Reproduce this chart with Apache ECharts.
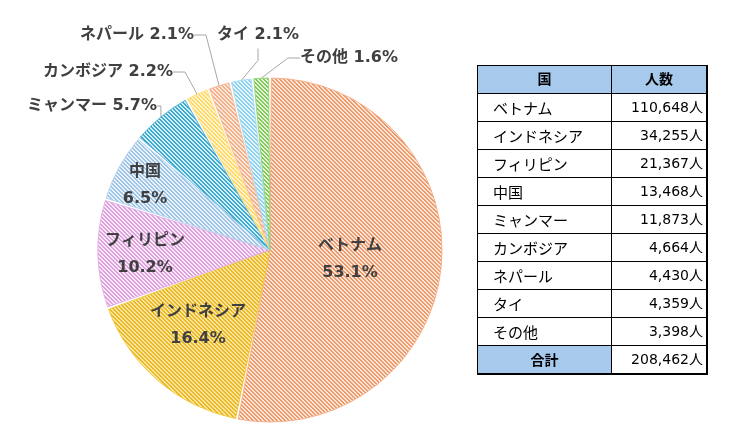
<!DOCTYPE html>
<html>
<head>
<meta charset="utf-8">
<script src="https://cdn.jsdelivr.net/npm/echarts@6/dist/echarts.min.js"></script>
<style>
  html, body { margin:0; padding:0; background:#fff; }
  #wrap { position:relative; width:745px; height:438px; }
  #chart { position:absolute; left:0; top:0; width:745px; height:438px; }
  #tbl { position:absolute; left:477px; top:65px; border-collapse:collapse;
         font-family:"DejaVu Sans","Noto Sans CJK JP",sans-serif; font-size:14px; color:#000;
         border-right:2px solid #000; border-bottom:2px solid #000; }
  #tbl td, #tbl th { border:1px solid #000; padding:0; height:27px; line-height:27px; }
  #tbl th { background:#a6c9ec; font-weight:bold; text-align:center; }
  #tbl td.n { text-align:left; padding-left:15px; width:118px; font-family:"Noto Sans CJK JP",sans-serif; font-size:15px; }
  #tbl td.v { text-align:right; padding-right:3px; width:91px; }
  #tbl .totl { background:#a6c9ec; font-weight:bold; text-align:center; font-family:"Noto Sans CJK JP",sans-serif; }
</style>
</head>
<body>
<div id="wrap">
  <div id="chart"></div>
  <table id="tbl"></table>
</div>
<script>
// ---- data ----
var countries = ['ベトナム','インドネシア','フィリピン','中国','ミャンマー','カンボジア','ネパール','タイ','その他'];
var counts    = [110648, 34255, 21367, 13468, 11873, 4664, 4430, 4359, 3398];
var tableHeader = ['国', '人数'];
var totalLabel = '合計';
var unit = '人';

// ---- styles ----
var stripeFg = ['#ec9a6c','#eab825','#dca0dc','#9ec4e6','#3ea9cd','#ffd966','#f2ae86','#8ed0f0','#82c85c'];
var stripeBg = ['#fde6d8','#fbe6a0','#f9e9f9','#e9f2fb','#d2eef8','#fff5d2','#fde8dc','#e5f5fc','#e2f3d6'];
var edgeCol  = ['#f4b08a','#f0c840','#e4b4e4','#b4d2ee','#5ab6d6','#ffe080','#f4bc9c','#a8dcf4','#98d47a'];
var insideSet = {'ベトナム':1,'インドネシア':1,'フィリピン':1,'中国':1};
var labelPos = {
  'ベトナム':[350,259], 'インドネシア':[198,325], 'フィリピン':[145,254], '中国':[145,185],
  'ミャンマー':[92,106], 'カンボジア':[108,72], 'ネパール':[137,35], 'タイ':[258,35], 'その他':[349,58]
};

function makePattern(fg, bg) {
  var c = document.createElement('canvas');
  c.width = 8; c.height = 8;
  var ctx = c.getContext('2d');
  var img = ctx.createImageData(8, 8);
  function hex(h){ return [parseInt(h.substr(1,2),16),parseInt(h.substr(3,2),16),parseInt(h.substr(5,2),16)]; }
  var f = hex(fg), b = hex(bg);
  for (var y = 0; y < 8; y++) for (var x = 0; x < 8; x++) {
    var on = ((x - y + 16) % 4) < 2;
    var col = on ? f : b;
    var k = (y*8 + x)*4;
    img.data[k]=col[0]; img.data[k+1]=col[1]; img.data[k+2]=col[2]; img.data[k+3]=255;
  }
  ctx.putImageData(img, 0, 0);
  return c;
}

var total = counts.reduce(function(a,b){return a+b;}, 0);
function pct(v){ return (v/total*100).toFixed(1); }
function fmt(n){ return n.toString().replace(/\B(?=(\d{3})+(?!\d))/g, ','); }

// ---- table ----
(function(){
  var t = document.getElementById('tbl');
  var h = '<tr style="height:28px"><th style="width:133px">'+tableHeader[0]+'</th><th style="width:94px">'+tableHeader[1]+'</th></tr>';
  for (var i = 0; i < countries.length; i++) {
    h += '<tr><td class="n">'+countries[i]+'</td><td class="v">'+fmt(counts[i])+unit+'</td></tr>';
  }
  h += '<tr><td class="totl">'+totalLabel+'</td><td class="v">'+fmt(total)+unit+'</td></tr>';
  t.innerHTML = h;
})();

// ---- chart ----
var chart = echarts.init(document.getElementById('chart'), null, {renderer:'canvas'});
var data = countries.map(function(n, i){
  var inside = !!insideSet[n];
  return {
    name: n, value: counts[i],
    itemStyle: { color: { image: makePattern(stripeFg[i], stripeBg[i]), repeat: 'repeat' }, borderColor: edgeCol[i], borderWidth: 1 },
    label: { position: inside ? 'inside' : 'outside',
             formatter: function(p){ return inside ? (p.name + '\n' + pct(p.value) + '%') : (p.name + ' ' + pct(p.value) + '%'); } },
    labelLine: { show: !inside }
  };
});
chart.setOption({
  animation: false,
  series: [{
    type: 'pie',
    center: [270, 250],
    radius: 172,
    startAngle: 90,
    clockwise: true,
    padAngle: 0.9,
    data: data,
    label: {
      fontFamily: '"DejaVu Sans","Noto Sans CJK JP",sans-serif',
      fontSize: 16, fontWeight: 'bold', color: '#404040', lineHeight: 27,
      overflow: 'none', edgeDistance: 0
    },
    labelLine: { length: 12, length2: 12, lineStyle: { color: '#a6a6a6', width: 1 } },
    labelLayout: function(p){
      var pos = labelPos[countries[p.dataIndex]];
      return { x: pos[0], y: pos[1], align: 'center', verticalAlign: 'middle' };
    },
    emphasis: { disabled: true }
  }]
});
</script>
</body>
</html>
